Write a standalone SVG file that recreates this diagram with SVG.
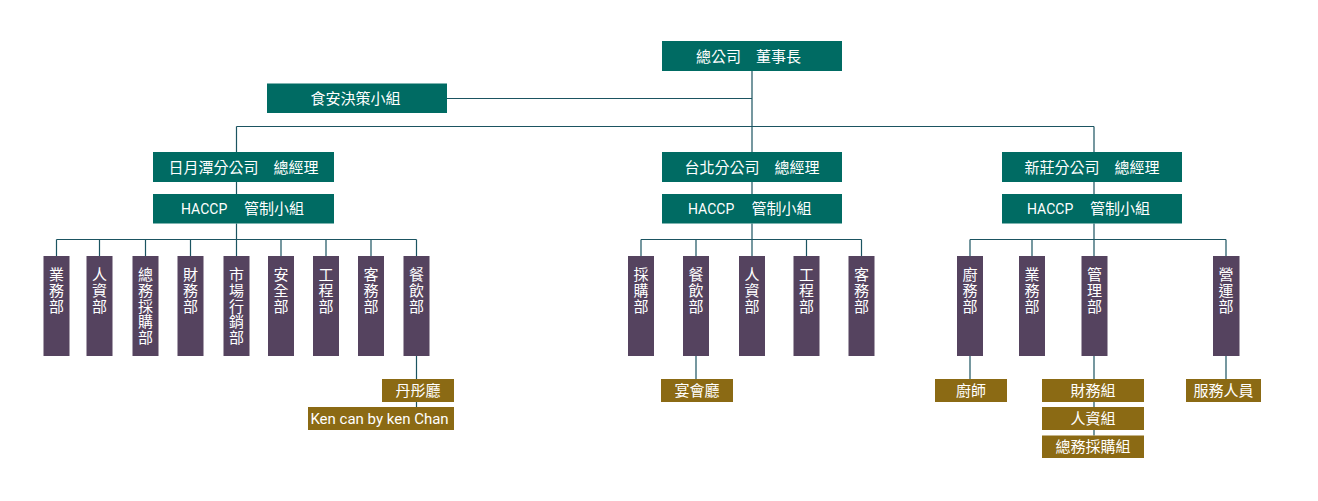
<svg xmlns="http://www.w3.org/2000/svg" width="1318" height="501" viewBox="0 0 1318 501">
<style>
text{font-family:Roboto,"Noto Sans CJK TC","Noto Sans CJK SC",sans-serif;fill:#ffffff;font-size:15px}
.teal{fill:#006b63}
.purple{fill:#55435f}
.gold{fill:#8b6a14}
.c{text-anchor:middle}
.conn{fill:none;stroke:#1b5461;stroke-width:1.2}
.lat{font-size:14px}
</style>
<rect width="1318" height="501" fill="#ffffff"/>
<g id="connectors" class="conn">
<path d="M752 71V152M447 98.5H752M236.5 126.5H1094M236.5 126.5V152M1094 126.5V152"/>
<path d="M236.5 182V194M752 182V194M1094 182V194M236.5 223.5V239.5M752 223.5V239.5M1094 223.5V239.5"/>
<path d="M56.5 239.5H416.5M56.5 239.5V256M99.5 239.5V256M145.5 239.5V256M190.5 239.5V256M236.5 239.5V256M281 239.5V256M326 239.5V256M371 239.5V256M416.5 239.5V256"/>
<path d="M641 239.5H861.5M641 239.5V256M696 239.5V256M752 239.5V256M806.5 239.5V256M861.5 239.5V256"/>
<path d="M970 239.5H1226M970 239.5V256M1032 239.5V256M1094 239.5V256M1226 239.5V256"/>
<path d="M416.5 356V379M416.5 402V407M696 356V379M970 356V379M1094 356V379M1094 402V407M1094 430V435.5M1226 356V379"/>
</g>
<g id="n-top"><rect class="teal" x="662" y="41" width="180" height="30"/><text x="696" y="61.5">總公司　董事長</text></g>
<g id="n-food"><rect class="teal" x="267" y="83.5" width="180" height="29.5"/><text x="310.5" y="104">食安決策小組</text></g>
<g id="n-sunmoon"><rect class="teal" x="153" y="152" width="181" height="30"/><text class="c" x="243.5" y="172.5">日月潭分公司　總經理</text></g>
<g id="n-taipei"><rect class="teal" x="662" y="152" width="180" height="30"/><text class="c" x="752" y="172.5">台北分公司　總經理</text></g>
<g id="n-xinzhuang"><rect class="teal" x="1002" y="152" width="180" height="30"/><text class="c" x="1092" y="172.5">新莊分公司　總經理</text></g>
<g id="n-haccp1"><rect class="teal" x="153" y="194" width="181" height="29.5"/><text class="lat" x="181" y="214">HACCP</text><text x="244" y="214">管制小組</text></g>
<g id="n-haccp2"><rect class="teal" x="662" y="194" width="180" height="29.5"/><text class="lat" x="688" y="214">HACCP</text><text x="751.5" y="214">管制小組</text></g>
<g id="n-haccp3"><rect class="teal" x="1002" y="194" width="180" height="29.5"/><text class="lat" x="1027" y="214">HACCP</text><text x="1090" y="214">管制小組</text></g>
<g id="d-l1"><rect class="purple" x="43.5" y="256" width="26" height="100"/><text class="c"><tspan x="56.5" y="280">業</tspan><tspan x="56.5" y="296">務</tspan><tspan x="56.5" y="311.5">部</tspan></text></g>
<g id="d-l2"><rect class="purple" x="86.5" y="256" width="26" height="100"/><text class="c"><tspan x="99.5" y="280">人</tspan><tspan x="99.5" y="296">資</tspan><tspan x="99.5" y="311.5">部</tspan></text></g>
<g id="d-l3"><rect class="purple" x="132.5" y="256" width="26" height="100"/><text class="c"><tspan x="145.5" y="280">總</tspan><tspan x="145.5" y="296">務</tspan><tspan x="145.5" y="311.5">採</tspan><tspan x="145.5" y="327">購</tspan><tspan x="145.5" y="343">部</tspan></text></g>
<g id="d-l4"><rect class="purple" x="177.5" y="256" width="26" height="100"/><text class="c"><tspan x="190.5" y="280">財</tspan><tspan x="190.5" y="296">務</tspan><tspan x="190.5" y="311.5">部</tspan></text></g>
<g id="d-l5"><rect class="purple" x="223.5" y="256" width="26" height="100"/><text class="c"><tspan x="236.5" y="280">市</tspan><tspan x="236.5" y="296">場</tspan><tspan x="236.5" y="311.5">行</tspan><tspan x="236.5" y="327">銷</tspan><tspan x="236.5" y="343">部</tspan></text></g>
<g id="d-l6"><rect class="purple" x="268" y="256" width="26" height="100"/><text class="c"><tspan x="281" y="280">安</tspan><tspan x="281" y="296">全</tspan><tspan x="281" y="311.5">部</tspan></text></g>
<g id="d-l7"><rect class="purple" x="313" y="256" width="26" height="100"/><text class="c"><tspan x="326" y="280">工</tspan><tspan x="326" y="296">程</tspan><tspan x="326" y="311.5">部</tspan></text></g>
<g id="d-l8"><rect class="purple" x="358" y="256" width="26" height="100"/><text class="c"><tspan x="371" y="280">客</tspan><tspan x="371" y="296">務</tspan><tspan x="371" y="311.5">部</tspan></text></g>
<g id="d-l9"><rect class="purple" x="403.5" y="256" width="26" height="100"/><text class="c"><tspan x="416.5" y="280">餐</tspan><tspan x="416.5" y="296">飲</tspan><tspan x="416.5" y="311.5">部</tspan></text></g>
<g id="d-m1"><rect class="purple" x="628" y="256" width="26" height="100"/><text class="c"><tspan x="641" y="280">採</tspan><tspan x="641" y="296">購</tspan><tspan x="641" y="311.5">部</tspan></text></g>
<g id="d-m2"><rect class="purple" x="683" y="256" width="26" height="100"/><text class="c"><tspan x="696" y="280">餐</tspan><tspan x="696" y="296">飲</tspan><tspan x="696" y="311.5">部</tspan></text></g>
<g id="d-m3"><rect class="purple" x="739" y="256" width="26" height="100"/><text class="c"><tspan x="752" y="280">人</tspan><tspan x="752" y="296">資</tspan><tspan x="752" y="311.5">部</tspan></text></g>
<g id="d-m4"><rect class="purple" x="793.5" y="256" width="26" height="100"/><text class="c"><tspan x="806.5" y="280">工</tspan><tspan x="806.5" y="296">程</tspan><tspan x="806.5" y="311.5">部</tspan></text></g>
<g id="d-m5"><rect class="purple" x="848.5" y="256" width="26" height="100"/><text class="c"><tspan x="861.5" y="280">客</tspan><tspan x="861.5" y="296">務</tspan><tspan x="861.5" y="311.5">部</tspan></text></g>
<g id="d-r1"><rect class="purple" x="957" y="256" width="26" height="100"/><text class="c"><tspan x="970" y="280">廚</tspan><tspan x="970" y="296">務</tspan><tspan x="970" y="311.5">部</tspan></text></g>
<g id="d-r2"><rect class="purple" x="1019" y="256" width="26" height="100"/><text class="c"><tspan x="1032" y="280">業</tspan><tspan x="1032" y="296">務</tspan><tspan x="1032" y="311.5">部</tspan></text></g>
<g id="d-r3"><rect class="purple" x="1081.5" y="256" width="26" height="100"/><text class="c"><tspan x="1094.5" y="280">管</tspan><tspan x="1094.5" y="296">理</tspan><tspan x="1094.5" y="311.5">部</tspan></text></g>
<g id="d-r4"><rect class="purple" x="1213" y="256" width="26.5" height="100"/><text class="c"><tspan x="1226" y="280">營</tspan><tspan x="1226" y="296">運</tspan><tspan x="1226" y="311.5">部</tspan></text></g>
<g id="s-dantong"><rect class="gold" x="382" y="379" width="72" height="23"/><text class="c" x="418" y="396">丹彤廳</text></g>
<g id="s-kencan"><rect class="gold" x="308" y="407" width="146" height="23"/><text class="c" x="379.5" y="423.5" font-size="13">Ken can by ken Chan</text></g>
<g id="s-banquet"><rect class="gold" x="661" y="379" width="72" height="23"/><text class="c" x="697" y="396">宴會廳</text></g>
<g id="s-chef"><rect class="gold" x="935" y="379" width="72" height="23"/><text class="c" x="971" y="396">廚師</text></g>
<g id="s-finance"><rect class="gold" x="1042" y="379" width="102" height="23"/><text class="c" x="1093" y="396">財務組</text></g>
<g id="s-hr"><rect class="gold" x="1042" y="407" width="102" height="23"/><text class="c" x="1093" y="424">人資組</text></g>
<g id="s-purchase"><rect class="gold" x="1042" y="435.5" width="102" height="22.5"/><text class="c" x="1093" y="452">總務採購組</text></g>
<g id="s-service"><rect class="gold" x="1186" y="379" width="75" height="23"/><text class="c" x="1223.5" y="396">服務人員</text></g>
</svg>
